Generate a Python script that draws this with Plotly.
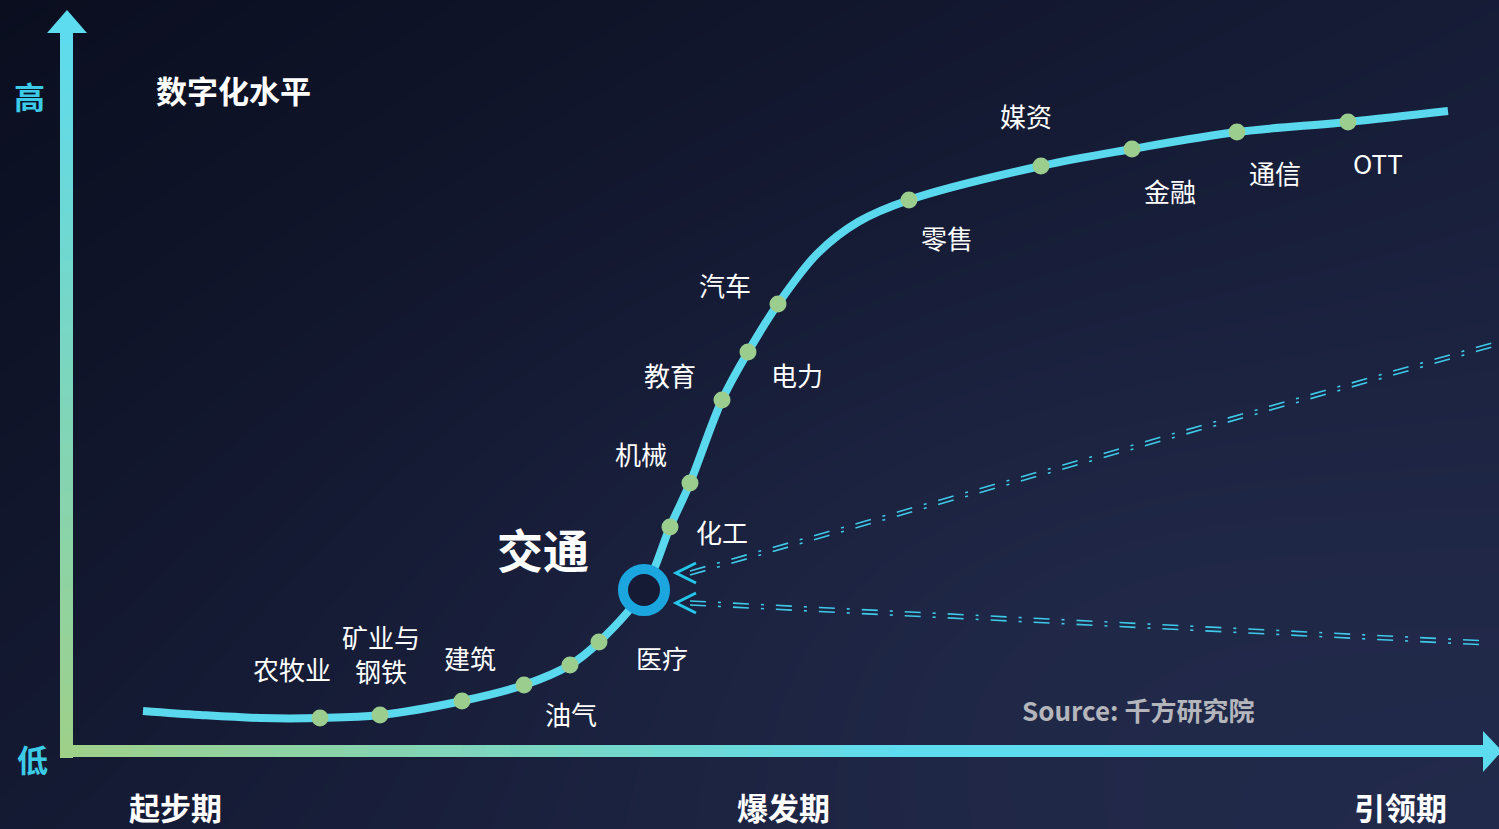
import numpy as np
import plotly.graph_objects as go

W, H = 1499, 829

# S-curve (digitalisation level vs. stage), in picture units
curve_x = [143, 200, 260, 320, 380, 462, 524, 570, 599, 644, 670, 690, 722, 748, 778, 818, 858, 909, 1041, 1132, 1237, 1348, 1448]
curve_y = [711, 715, 718, 718, 715, 701, 685, 665, 642, 590, 527, 483, 400, 352, 304, 253, 222, 200, 166, 149, 132, 122, 111]
dot_idx = [3, 4, 5, 6, 7, 8, 10, 11, 12, 13, 14, 17, 18, 19, 20, 21]
focus_idx = 9  # 交通

labels = ["农牧业", "矿业与<br>钢铁", "建筑", "油气", "医疗", "化工", "机械", "教育", "电力", "汽车",
          "零售", "媒资", "金融", "通信", "OTT"]
label_x = [292, 381, 470, 571, 662, 722, 641, 670, 797, 725, 947, 1026, 1170, 1275, 1378]
label_y = [668, 653, 657, 713, 657, 531, 453, 374, 374, 284, 237, 115, 190, 172, 162]

stage_labels = ["起步期", "爆发期", "引领期"]
stage_x = [175, 783, 1400]

# dashed "trend" lines pointing at 交通
dash_lines = [((1499, 343), (690, 573)), ((1488, 643), (690, 603))]

fig = go.Figure()

# background gradient
gx = np.linspace(0, W, 30)
gy = np.linspace(0, H, 20)
GX, GY = np.meshgrid(gx, gy)
z = 0.55 * (GX / W) + 0.45 * (GY / H) + 0.25 * np.exp(-(((GX - 1000) / 600) ** 2 + ((GY - 600) / 350) ** 2))
fig.add_trace(go.Heatmap(x=gx, y=gy, z=z, zsmooth="best", showscale=False, hoverinfo="skip",
                         colorscale=[[0, "#0a0e1f"], [0.5, "#161c36"], [1, "#222a4b"]]))

shapes = []
def mix(c1, c2, t):
    a = [int(c1[i:i + 2], 16) for i in (1, 3, 5)]
    b = [int(c2[i:i + 2], 16) for i in (1, 3, 5)]
    return "#%02x%02x%02x" % tuple(int(a[k] + (b[k] - a[k]) * t) for k in range(3))

green, cyan = "#9fd08a", "#5ddcf0"
# vertical axis with gradient
n = 60
y_top, y_bot = 30, 757
for i in range(n):
    y0 = y_bot - (y_bot - y_top) * i / n + 1
    y1 = y_bot - (y_bot - y_top) * (i + 1) / n - 1
    shapes.append(dict(type="rect", x0=60, x1=73, y0=y0, y1=y1, fillcolor=mix(green, cyan, i / n),
                       line=dict(width=0), layer="above"))
shapes.append(dict(type="path", path="M 47 33 L 87 33 L 67 10 Z", fillcolor=cyan, line=dict(width=0)))
# horizontal axis with gradient
x_l, x_r = 60, 1485
for i in range(n):
    x0 = x_l + (x_r - x_l) * i / n - 1
    x1 = x_l + (x_r - x_l) * (i + 1) / n + 1
    t = min(1.0, (i / n) * 1.7)
    shapes.append(dict(type="rect", x0=max(x_l, x0), x1=x1, y0=745, y1=757, fillcolor=mix(green, cyan, t),
                       line=dict(width=0), layer="above"))
shapes.append(dict(type="path", path="M 1483 731 L 1483 772 L 1502 751 Z", fillcolor=cyan, line=dict(width=0)))

# chevrons
for (p0, p1) in dash_lines:
    tx, ty = p1[0] - 14, p1[1]
    shapes.append(dict(type="path", path=f"M {tx+20} {ty-10} L {tx} {ty} L {tx+20} {ty+10}",
                       line=dict(color="#24c6ea", width=3)))

# dashed double lines
for (p0, p1) in dash_lines:
    for off in (-2, 2):
        fig.add_trace(go.Scatter(x=[p1[0], p0[0]], y=[p1[1] + off, p0[1] + off], mode="lines",
                                 line=dict(color="#3fc9e8", width=1.6, dash="16px,12px,3px,12px"),
                                 hoverinfo="skip", showlegend=False))

# curve
fig.add_trace(go.Scatter(x=curve_x, y=curve_y, mode="lines", line=dict(color="#5ad8ee", width=8, shape="spline", smoothing=1.0),
                         hoverinfo="skip", showlegend=False))
fig.add_trace(go.Scatter(x=[curve_x[i] for i in dot_idx], y=[curve_y[i] for i in dot_idx], mode="markers",
                         marker=dict(color="#9acd8e", size=17), hoverinfo="skip", showlegend=False))
fig.add_trace(go.Scatter(x=[curve_x[focus_idx]], y=[curve_y[focus_idx]], mode="markers",
                         marker=dict(color="#151b34", size=42, line=dict(color="#1ba6e0", width=10)),
                         hoverinfo="skip", showlegend=False))

fig.update_layout(shapes=shapes)

ann = []
F = "Noto Sans CJK SC"
for t, x, y in zip(labels, label_x, label_y):
    ann.append(dict(x=x, y=y, text=t, showarrow=False, font=dict(family=F, size=26, color="white")))
ann.append(dict(x=543, y=548, text="<b>交通</b>", showarrow=False, font=dict(family=F, size=46, color="white")))
ann.append(dict(x=233, y=89, text="<b>数字化水平</b>", showarrow=False, font=dict(family=F, size=31, color="white")))
ann.append(dict(x=29, y=95, text="<b>高</b>", showarrow=False, font=dict(family=F, size=31, color="#3ccbe6")))
ann.append(dict(x=32, y=758, text="<b>低</b>", showarrow=False, font=dict(family=F, size=31, color="#3ccbe6")))
for t, x in zip(stage_labels, stage_x):
    ann.append(dict(x=x, y=806, text=f"<b>{t}</b>", showarrow=False, font=dict(family=F, size=31, color="white")))
ann.append(dict(x=1138, y=709, text="<b>Source: 千方研究院</b>", showarrow=False,
                font=dict(family=F, size=26, color="#b4b6bc")))

fig.update_layout(
    annotations=ann,
    width=W, height=H, margin=dict(l=0, r=0, t=0, b=0),
    paper_bgcolor="#0c1022", plot_bgcolor="#0c1022",
    xaxis=dict(range=[0, W], visible=False, fixedrange=True),
    yaxis=dict(range=[H, 0], visible=False, fixedrange=True),
    showlegend=False,
)
fig.write_html("out.html", config={"displayModeBar": False})
